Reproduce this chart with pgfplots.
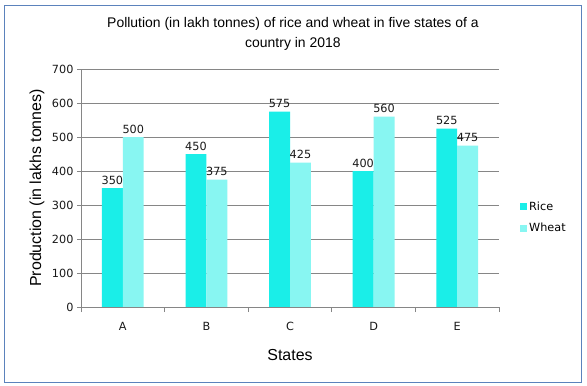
\documentclass[border=0pt]{standalone}
\usepackage{pgfplots}
\pgfplotsset{compat=1.18}
\usepackage{fontspec}
\setmainfont{Liberation Sans}
\newfontfamily\dv{DejaVu Sans}
\definecolor{rice}{HTML}{1AEEE8}
\definecolor{wheat}{HTML}{88F6F2}
\definecolor{gridc}{HTML}{868686}
\definecolor{framec}{HTML}{5B82BC}
\begin{document}
\begin{tikzpicture}
\useasboundingbox (0,0) rectangle (587bp,386bp);
\draw[framec, fill=white, line width=0.8bp] (4bp,4bp) rectangle (581bp,381bp);
\begin{axis}[
  at={(81bp,79bp)}, anchor=south west,
  scale only axis, width=418bp, height=238bp,
  ybar=0pt, bar width=0.25,
  xmin=-0.5, xmax=4.5, ymin=0, ymax=700,
  ytick={0,100,...,700},
  xtick={0,1,2,3,4}, xticklabels={A,B,C,D,E},
  minor xtick={-0.5,0.5,...,4.5},
  every major x tick/.style={draw=none},
  tick align=outside, major tick length=4bp, minor tick length=5bp,
  tick style={gridc, line width=0.8bp},
  axis x line*=bottom, axis y line*=left,
  axis line style={gridc, line width=0.8bp, -},
  ymajorgrids, grid style={gridc, line width=0.8bp},
  tick label style={font=\dv\fontsize{11.3}{13}\selectfont, text=black!90},
  /pgf/number format/assume math mode=true,
  x tick label style={yshift=-8bp},
  every axis y label/.style={at={(axis description cs:-0.105,0.5)}, rotate=90, anchor=center, font=\fontsize{16}{19}\selectfont},
  every axis x label/.style={at={(axis description cs:0.5,-0.2)}, anchor=center, font=\fontsize{16}{19}\selectfont},
  ylabel={Production (in lakhs tonnes)},
  xlabel={States},
  title={Pollution (in lakh tonnes) of rice and wheat in five states of a\\country in 2018},
  title style={at={(axis description cs:0.507,1.122)}, anchor=center, align=center, font=\fontsize{14}{20}\selectfont},
  nodes near coords,
  every node near coord/.append style={font=\dv\fontsize{11.3}{13}\selectfont, text=black!90},
  legend style={at={(axis description cs:1.043,0.376)}, anchor=west, draw=none, fill=none, font=\dv\fontsize{11.3}{13}\selectfont, row sep=7bp},
  legend cell align=left,
  legend image code/.code={\fill[#1] (0bp,-3.5bp) rectangle (7bp,3.5bp);},
]
\addplot[fill=rice, draw=none] coordinates {(0,350) (1,450) (2,575) (3,400) (4,525)};
\addplot[fill=wheat, draw=none] coordinates {(0,500) (1,375) (2,425) (3,560) (4,475)};
\legend{Rice,Wheat}
\end{axis}
\end{tikzpicture}
\end{document}
